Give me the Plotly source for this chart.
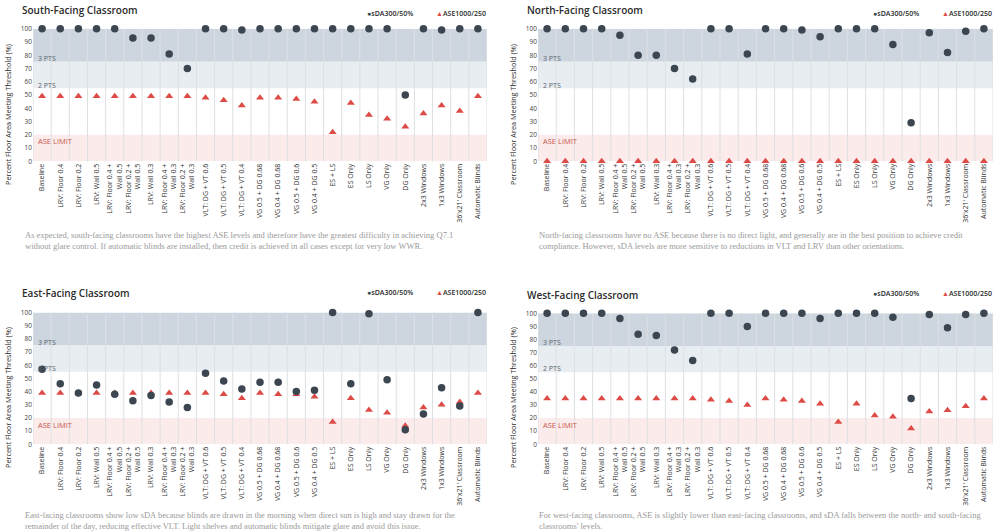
import plotly.graph_objects as go

categories = [
    "Baseline", "LRV: Floor 0.4", "LRV: Floor 0.2", "LRV: Wall 0.5",
    "LRV: Floor 0.4 +<br>Wall 0.5", "LRV: Floor 0.2 +<br>Wall 0.5", "LRV: Wall 0.3",
    "LRV: Floor 0.4 +<br>Wall 0.3", "LRV: Floor 0.2 +<br>Wall 0.3",
    "VLT: DG + VT 0.6", "VLT: DG + VT 0.5", "VLT: DG + VT 0.4",
    "VG 0.5 + DG 0.68", "VG 0.4 + DG 0.68", "VG 0.5 + DG 0.6", "VG 0.4 + DG 0.5",
    "ES + LS", "ES Only", "LS Only", "VG Only", "DG Only",
    "2x3 Windows", "1x3 Windows", "36'x21' Classroom", "Automatic Blinds",
]

south_sda = [100, 100, 100, 100, 100, 93, 93, 81, 70, 100, 100, 99, 100, 100, 100, 100, 100, 100, 100, 100, 50, 100, 99, 100, 100]
south_ase = [49, 49, 49, 49, 49, 49, 49, 49, 49, 48, 46, 42, 48, 48, 47, 45, 22, 44, 35, 32, 26, 36, 42, 38, 49]

north_sda = [100, 100, 100, 100, 95, 80, 80, 70, 62, 100, 100, 81, 100, 100, 99, 94, 100, 100, 100, 88, 29, 97, 82, 98, 100]
north_ase = [0] * 25

east_sda = [57, 46, 39, 45, 38, 33, 37, 32, 28, 54, 48, 42, 47, 47, 40, 41, 100, 46, 99, 49, 11, 23, 43, 29, 100]
east_ase = [39, 39, 39, 39, 39, 39, 39, 39, 39, 39, 38, 35, 39, 38, 38, 36, 17, 35, 26, 24, 14, 28, 30, 32, 39]

west_sda = [100, 100, 100, 100, 96, 84, 83, 72, 64, 100, 100, 90, 100, 100, 100, 96, 100, 100, 100, 97, 35, 99, 89, 99, 100]
west_ase = [35, 35, 35, 35, 35, 35, 35, 35, 35, 34, 33, 30, 35, 34, 33, 31, 17, 31, 22, 21, 12, 25, 26, 29, 35]

titles = ["South-Facing Classroom", "North-Facing Classroom", "East-Facing Classroom", "West-Facing Classroom"]
captions = [
    "As expected, south-facing classrooms have the highest ASE levels and therefore have the greatest difficulty in achieving Q7.1<br>without glare control. If automatic blinds are installed, then credit is achieved in all cases except for very low WWR.",
    "North-facing classrooms have no ASE because there is no direct light, and generally are in the best position to achieve credit<br>compliance. However, sDA levels are more sensitive to reductions in VLT and LRV than other orientations.",
    "East-facing classrooms show low sDA because blinds are drawn in the morning when direct sun is high and stay drawn for the<br>remainder of the day, reducing effective VLT. Light shelves and automatic blinds mitigate glare and avoid this issue.",
    "For west-facing classrooms, ASE is slightly lower than east-facing classrooms, and sDA falls between the north- and south-facing<br>classrooms' levels.",
]
y_ticks = [0, 10, 20, 30, 40, 50, 60, 70, 80, 90, 100]
series_sda = [south_sda, north_sda, east_sda, west_sda]
series_ase = [south_ase, north_ase, east_ase, west_ase]

W, H = 1000, 532
def px(x):
    return x / W
def py(y):
    return 1 - y / H

# panel geometry in pixels: (left, right, top, bottom)
panels = [(33, 487, 28.7, 161.3), (538, 993, 28.7, 161.3), (33, 487, 312.5, 444.3), (538, 993, 313.3, 444.3)]
title_pos = [(20, 10), (525, 10), (20, 293), (525, 295)]
legend_y = [13, 13, 292, 293]
caption_pos = [(23, 228), (537, 228), (23, 508), (537, 508)]
caption_size = [8.5, 8.5, 8.5, 8.5]
ytitle_y = [115, 115, 398, 398]
ytitle_x = [8, 513, 8, 513]

DOT = "#3b4650"
TRI = "#dc4b45"
fig = go.Figure()
shapes = []
annotations = []
layout = {}

for i in range(4):
    l, r, t, b = panels[i]
    xa = "xaxis" if i == 0 else f"xaxis{i+1}"
    ya = "yaxis" if i == 0 else f"yaxis{i+1}"
    xr = "x" if i == 0 else f"x{i+1}"
    yr = "y" if i == 0 else f"y{i+1}"
    layout[xa] = dict(domain=[px(l), px(r)], anchor=yr, range=[-0.5, 24.5],
                      tickmode="array", tickvals=list(range(25)), ticktext=categories,
                      tickangle=-90, tickfont=dict(family="Open Sans", size=7, color="#333"),
                      showgrid=False, zeroline=False, showline=False, ticks="", fixedrange=True,
                      automargin=False)
    layout[ya] = dict(domain=[py(b), py(t)], anchor=xr, range=[0, 100],
                      tickmode="array", tickvals=y_ticks,
                      tickfont=dict(family="Open Sans", size=6.5, color="#444"),
                      showgrid=False, zeroline=False, showline=False, ticks="", fixedrange=True,
                      automargin=False)
    # bands
    for (y0, y1, col) in [(75, 100, "#cdd6df"), (55, 75, "#e8edf1"), (0, 20, "#fbeceb")]:
        shapes.append(dict(type="rect", xref=f"{xr} domain", yref=yr, x0=0, x1=1, y0=y0, y1=y1,
                           fillcolor=col, line_width=0, layer="below"))
    # separators
    for k in range(26):
        shapes.append(dict(type="line", xref=xr, yref=f"{yr} domain", x0=k - 0.5, x1=k - 0.5, y0=0, y1=1,
                           line=dict(color="#dde0e3", width=1), layer="below"))
    # band labels
    annotations.append(dict(xref="paper", yref=yr, x=px(l + 3), y=77.5, text="3 PTS", showarrow=False,
                            xanchor="left", font=dict(family="Open Sans", size=7, color="#5a6570")))
    annotations.append(dict(xref="paper", yref=yr, x=px(l + 3), y=57.5, text="2 PTS", showarrow=False,
                            xanchor="left", font=dict(family="Open Sans", size=7, color="#5a6570")))
    annotations.append(dict(xref="paper", yref=yr, x=px(l + 3), y=15, text="ASE LIMIT", showarrow=False,
                            xanchor="left", font=dict(family="Open Sans", size=7.5, color="#c9544c")))
    # title
    tx, ty = title_pos[i]
    annotations.append(dict(xref="paper", yref="paper", x=px(tx), y=py(ty), text=titles[i], showarrow=False,
                            xanchor="left", yanchor="middle",
                            font=dict(family="Open Sans", size=10, color="#2b2b2b", weight=600)))
    # legend
    annotations.append(dict(xref="paper", yref="paper", x=px(r - 72), y=py(legend_y[i]),
                            text=f"<span style='color:{DOT}'>●</span>sDA300/50%", showarrow=False,
                            xanchor="right", yanchor="middle",
                            font=dict(family="Open Sans", size=7, color="#2b2b2b", weight=600)))
    annotations.append(dict(xref="paper", yref="paper", x=px(r + 1), y=py(legend_y[i]),
                            text=f"<span style='color:{TRI}'>▲</span>ASE1000/250", showarrow=False,
                            xanchor="right", yanchor="middle",
                            font=dict(family="Open Sans", size=7, color="#2b2b2b", weight=600)))
    # caption
    cx, cy = caption_pos[i]
    annotations.append(dict(xref="paper", yref="paper", x=px(cx), y=py(cy), text=captions[i], showarrow=False,
                            xanchor="left", yanchor="top", align="left",
                            font=dict(family="Liberation Serif", size=caption_size[i], color="#9a9a9a")))
    # y title
    annotations.append(dict(xref="paper", yref="paper", x=px(ytitle_x[i]), y=py(ytitle_y[i]),
                            text="Percent Floor Area Meeting Threshold (%)", showarrow=False, textangle=-90,
                            xanchor="center", yanchor="middle",
                            font=dict(family="Open Sans", size=7.3, color="#2b2b2b")))

    fig.add_trace(go.Scatter(x=list(range(25)), y=series_ase[i], mode="markers", xaxis=xr, yaxis=yr,
                             marker=dict(symbol="triangle-up", size=7, color=TRI), showlegend=False,
                             cliponaxis=False))
    fig.add_trace(go.Scatter(x=list(range(25)), y=series_sda[i], mode="markers", xaxis=xr, yaxis=yr,
                             marker=dict(symbol="circle", size=7.5, color=DOT), showlegend=False,
                             cliponaxis=False))

fig.update_layout(width=W, height=H, margin=dict(l=0, r=0, t=0, b=0),
                  paper_bgcolor="white", plot_bgcolor="white",
                  shapes=shapes, annotations=annotations, **layout)
fig.write_html("out.html", config={"displayModeBar": False},
               post_script="document.body.style.margin='0px';document.body.style.overflow='hidden';")
